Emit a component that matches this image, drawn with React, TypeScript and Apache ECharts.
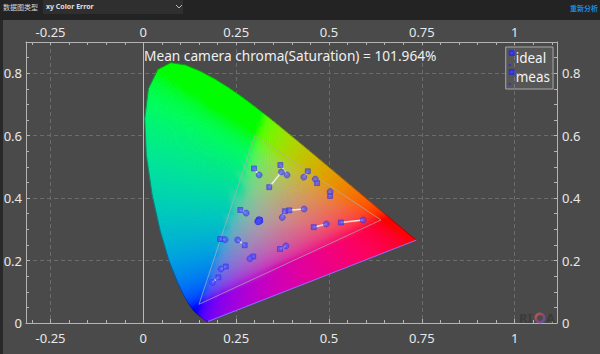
import React, { useEffect, useRef } from 'react';
import * as echarts from 'echarts';

// CIE 1931 2° spectral locus, 380–700 nm in 5 nm steps
const locusX = [0.1741, 0.1740, 0.1738, 0.1736, 0.1733, 0.1730, 0.1726, 0.1721, 0.1714, 0.1703, 0.1689, 0.1669, 0.1644, 0.1611, 0.1566, 0.1510, 0.1440, 0.1355, 0.1241, 0.1096, 0.0913, 0.0687, 0.0454, 0.0235, 0.0082, 0.0039, 0.0139, 0.0389, 0.0743, 0.1142, 0.1547, 0.1929, 0.2296, 0.2658, 0.3016, 0.3373, 0.3731, 0.4087, 0.4441, 0.4788, 0.5125, 0.5448, 0.5752, 0.6029, 0.6270, 0.6482, 0.6658, 0.6801, 0.6915, 0.7006, 0.7079, 0.7140, 0.7190, 0.7230, 0.7260, 0.7283, 0.7300, 0.7311, 0.7320, 0.7327, 0.7334, 0.7340, 0.7344, 0.7346, 0.7347];
const locusY = [0.0050, 0.0050, 0.0049, 0.0049, 0.0048, 0.0048, 0.0048, 0.0048, 0.0051, 0.0058, 0.0069, 0.0086, 0.0109, 0.0138, 0.0177, 0.0227, 0.0297, 0.0399, 0.0578, 0.0868, 0.1327, 0.2007, 0.2950, 0.4127, 0.5384, 0.6548, 0.7502, 0.8120, 0.8338, 0.8262, 0.8059, 0.7816, 0.7543, 0.7243, 0.6923, 0.6589, 0.6245, 0.5896, 0.5547, 0.5202, 0.4866, 0.4544, 0.4242, 0.3965, 0.3725, 0.3514, 0.3340, 0.3197, 0.3083, 0.2993, 0.2920, 0.2859, 0.2809, 0.2770, 0.2740, 0.2717, 0.2700, 0.2689, 0.2680, 0.2673, 0.2666, 0.2660, 0.2656, 0.2654, 0.2653];

// sRGB gamut triangle (R, G, B)
const gamutX = [0.64, 0.30, 0.15];
const gamutY = [0.33, 0.60, 0.06];

// Ideal (reference) chromaticities
const idealX = [0.298, 0.369, 0.339, 0.443, 0.468, 0.503, 0.261, 0.381, 0.393, 0.459, 0.532, 0.207, 0.273, 0.296, 0.368, 0.222, 0.202, 0.3127, 0.3127, 0.3127, 0.3127, 0.3127, 0.3127];
const idealY = [0.495, 0.506, 0.435, 0.486, 0.448, 0.407, 0.362, 0.358, 0.361, 0.307, 0.322, 0.269, 0.249, 0.213, 0.237, 0.181, 0.146, 0.329, 0.329, 0.329, 0.329, 0.329, 0.329];
// Measured chromaticities
const measX = [0.312, 0.387, 0.372, 0.432, 0.463, 0.503, 0.277, 0.374, 0.433, 0.493, 0.592, 0.220, 0.254, 0.287, 0.384, 0.209, 0.186, 0.309, 0.311, 0.314, 0.308, 0.313, 0.310];
const measY = [0.474, 0.474, 0.484, 0.467, 0.461, 0.421, 0.352, 0.338, 0.365, 0.317, 0.330, 0.267, 0.266, 0.206, 0.247, 0.173, 0.130, 0.327, 0.331, 0.326, 0.324, 0.330, 0.325];

const xTickLabels = [-0.25, 0, 0.25, 0.5, 0.75, 1];
const yTickLabels = [0, 0.2, 0.4, 0.6, 0.8];
const xMinorTicks = Array.from({ length: 29 }, (_, i) => Math.round((-0.3 + i * 0.05) * 100) / 100);
const yMinorTicks = Array.from({ length: 19 }, (_, i) => Math.round(i * 0.05 * 100) / 100);

const X_MIN = -0.316;
const X_MAX = 1.114;
const Y_MIN = 0;
const Y_MAX = 0.9;
const TITLE = 'Mean camera chroma(Saturation) = 101.964%';
const FONT = 'Noto Sans';

const WX = 0.3333;
const WY = 0.3333;

function gammaEnc(c: number) {
  const v = c <= 0.0031308 ? 12.92 * c : 1.055 * Math.pow(c, 1 / 2.4) - 0.055;
  return Math.round(Math.max(0, Math.min(1, v)) * 255);
}

function xyColor(x: number, y: number) {
  const yy = Math.max(y, 1e-4);
  const X = x / yy;
  const Z = (1 - x - yy) / yy;
  let r = 3.2406 * X - 1.5372 - 0.4986 * Z;
  let g = -0.9689 * X + 1.8758 + 0.0415 * Z;
  let b = 0.0557 * X - 0.204 + 1.057 * Z;
  r = Math.max(r, 0);
  g = Math.max(g, 0);
  b = Math.max(b, 0);
  const s = r + g + b || 1;
  const K = 1.1;
  r = (r / s) * K;
  g = (g / s) * K;
  b = (b / s) * K;
  const m = Math.max(r, g, b);
  if (m > 1) {
    r /= m;
    g /= m;
    b /= m;
  }
  return `rgb(${gammaEnc(r)},${gammaEnc(g)},${gammaEnc(b)})`;
}

export default function App() {
  const ref = useRef<HTMLDivElement>(null);

  useEffect(() => {
    if (!ref.current) return;
    const chart = echarts.init(ref.current, undefined, { renderer: 'svg' });
    const n = locusX.length;

    const locusData = locusX.map((x, i) => [x, locusY[i]]);
    const gamutData = [...gamutX.map((x, i) => [x, gamutY[i]]), [gamutX[0], gamutY[0]]];
    const purpleLine = [
      [locusX[n - 1], locusY[n - 1]],
      [locusX[0], locusY[0]],
    ];

    const axisLabelStyle = { color: '#e8e8e8', fontSize: 13, fontFamily: FONT };
    const axisLineStyle = { lineStyle: { color: '#b4b4b4', width: 1 } };
    const tickStyle = { lineStyle: { color: '#b4b4b4', width: 1 } };
    const gridLine = { color: '#6c6c6c', type: [4, 3], width: 1 };

    const xBase = { type: 'value', min: X_MIN, max: X_MAX };
    const yBase = { type: 'value', min: Y_MIN, max: Y_MAX };

    const option: any = {
      animation: false,
      backgroundColor: '#4a4a4a',
      textStyle: { fontFamily: FONT },
      title: {
        text: TITLE,
        left: 144,
        top: 48,
        padding: 0,
        textStyle: { color: '#f0f0f0', fontSize: 13.7, fontWeight: 'normal', fontFamily: FONT },
      },
      legend: {
        orient: 'vertical',
        right: 47,
        top: 47,
        itemWidth: 4,
        itemHeight: 14,
        itemGap: 3,
        padding: [3, 3, 4, 3],
        backgroundColor: 'rgba(255,255,255,0.07)',
        borderColor: '#a8a8a8',
        borderWidth: 1,
        borderRadius: 0,
        textStyle: { color: '#f4f4f4', fontSize: 13.5, fontFamily: FONT, padding: [0, 0, 0, -3] },
        data: [
          { name: 'ideal', icon: 'path://M0,0L4,0L4,4L0,4Z M0,13.95L0.01,13.95L0.01,14L0,14Z', itemStyle: { color: '#4646ff' } },
          { name: 'meas', icon: 'path://M0,0L4,0L4,4L0,4Z M0,13.95L0.01,13.95L0.01,14L0,14Z', itemStyle: { color: '#4646ff' } },
        ],
      },
      grid: { left: 26, right: 43, top: 42, bottom: 31, containLabel: false, outerBoundsMode: 'none' },
      xAxis: [
        {
          ...xBase,
          position: 'bottom',
          axisLine: { show: true, onZero: false, ...axisLineStyle },
          axisTick: { show: true, inside: true, length: 4, customValues: xTickLabels, ...tickStyle },
          axisLabel: { ...axisLabelStyle, margin: 8, customValues: xTickLabels },
          splitLine: { show: true, lineStyle: gridLine },
        },
        {
          ...xBase,
          position: 'top',
          axisLine: { show: true, onZero: false, ...axisLineStyle },
          axisTick: { show: true, inside: true, length: 3, customValues: xMinorTicks, ...tickStyle },
          axisLabel: { ...axisLabelStyle, margin: 4, customValues: xTickLabels },
          splitLine: { show: false },
        },
        {
          ...xBase,
          position: 'bottom',
          axisLine: { show: false, onZero: false },
          axisTick: { show: true, inside: true, length: 3, customValues: xMinorTicks, ...tickStyle },
          axisLabel: { show: false },
          splitLine: { show: false },
        },
      ],
      yAxis: [
        {
          ...yBase,
          position: 'left',
          axisLine: { show: true, onZero: false, ...axisLineStyle },
          axisTick: { show: true, inside: true, length: 4, customValues: yTickLabels, ...tickStyle },
          axisLabel: { ...axisLabelStyle, margin: 4, customValues: yTickLabels },
          splitLine: { show: true, lineStyle: gridLine },
        },
        {
          ...yBase,
          position: 'right',
          axisLine: { show: true, onZero: false, ...axisLineStyle },
          axisTick: { show: true, inside: true, length: 3, customValues: yMinorTicks, ...tickStyle },
          axisLabel: { ...axisLabelStyle, margin: 5, customValues: yTickLabels },
          splitLine: { show: false },
        },
        {
          ...yBase,
          position: 'left',
          axisLine: { show: false, onZero: false },
          axisTick: { show: true, inside: true, length: 3, customValues: yMinorTicks, ...tickStyle },
          axisLabel: { show: false },
          splitLine: { show: false },
        },
      ],
      series: [
        {
          type: 'custom',
          name: 'locusFill',
          xAxisIndex: 0,
          yAxisIndex: 0,
          clip: false,
          silent: true,
          z: 1,
          data: locusData,
          encode: { x: 0, y: 1 },
          renderItem: (params: any, api: any) => {
            const i = params.dataIndex;
            const j = (i + 1) % n;
            const x0 = locusX[i];
            const y0 = locusY[i];
            const x1 = locusX[j];
            const y1 = locusY[j];
            const len = Math.hypot(x1 - x0, y1 - y0);
            const parts = Math.max(1, Math.ceil(len / 0.012));
            const c = api.coord([WX, WY]);
            const children: any[] = [];
            for (let k = 0; k < parts; k++) {
              const ax = x0 + ((x1 - x0) * k) / parts;
              const ay = y0 + ((y1 - y0) * k) / parts;
              const bx = x0 + ((x1 - x0) * (k + 1)) / parts;
              const by = y0 + ((y1 - y0) * (k + 1)) / parts;
              const mx = (ax + bx) / 2;
              const my = (ay + by) / 2;
              const pa = api.coord([ax, ay]);
              const pb = api.coord([bx, by]);
              const pm = api.coord([mx, my]);
              const stops: any[] = [];
              for (let s = 0; s <= 12; s++) {
                const t = s / 12;
                stops.push({ offset: t, color: xyColor(WX + (mx - WX) * t, WY + (my - WY) * t) });
              }
              const grad = new echarts.graphic.LinearGradient(c[0], c[1], pm[0], pm[1], stops, true);
              children.push({
                type: 'polygon',
                shape: { points: [c, pa, pb] },
                style: { fill: grad, stroke: grad, lineWidth: 0.8 },
              });
            }
            return { type: 'group', children };
          },
        },
        {
          type: 'line',
          name: 'locus',
          data: locusData,
          showSymbol: false,
          silent: true,
          z: 3,
          lineStyle: { color: 'rgba(10,10,30,0.35)', width: 1 },
          markLine: {
            silent: true,
            symbol: 'none',
            label: { show: false },
            lineStyle: { color: '#b8b8b8', type: 'solid', width: 1 },
            data: [{ xAxis: 0 }],
          },
        },
        {
          type: 'line',
          name: 'purple',
          data: purpleLine,
          showSymbol: false,
          silent: true,
          z: 3,
          lineStyle: { color: '#7878ff', width: 1 },
        },
        {
          type: 'line',
          name: 'gamut',
          data: gamutData,
          showSymbol: false,
          silent: true,
          z: 3,
          lineStyle: { color: 'rgba(175,175,175,0.7)', width: 1 },
        },
        {
          type: 'lines',
          name: 'err',
          coordinateSystem: 'cartesian2d',
          silent: true,
          z: 4,
          data: idealX.map((x, i) => ({ coords: [[x, idealY[i]], [measX[i], measY[i]]] })),
          lineStyle: { color: 'rgba(245,245,245,0.9)', width: 1.5, opacity: 1 },
        },
        {
          type: 'scatter',
          name: 'ideal',
          z: 5,
          symbol: 'rect',
          symbolSize: 5,
          data: idealX.map((x, i) => [x, idealY[i]]),
          itemStyle: { color: 'rgba(75,75,255,0.9)', borderColor: '#2b2bd8', borderWidth: 0.6 },
        },
        {
          type: 'scatter',
          name: 'meas',
          z: 5,
          symbol: 'circle',
          symbolSize: 6,
          data: measX.map((x, i) => [x, measY[i]]),
          itemStyle: { color: 'rgba(75,75,255,0.85)', borderColor: '#2b2bd8', borderWidth: 0.6 },
        },
      ],
      graphic: [
        { type: 'rect', left: 0, top: 0, shape: { width: 600, height: 20 }, style: { fill: '#232323' }, z: 100 },
        { type: 'rect', left: 0, top: 20, shape: { width: 3, height: 334 }, style: { fill: '#282828' }, z: 100 },
        { type: 'rect', left: 43, top: 0, shape: { width: 140, height: 14 }, style: { fill: '#2f2f2f' }, z: 101 },
        { type: 'text', left: 3, top: 3, style: { text: '数据图类型', fill: '#d8d8d8', fontSize: 7, fontFamily: 'Noto Sans CJK SC' }, z: 102 },
        { type: 'text', left: 46, top: 3, style: { text: 'xy Color Error', fill: '#e0e0e0', fontSize: 7, fontWeight: 'bold', fontFamily: FONT }, z: 102 },
        { type: 'polyline', shape: { points: [[176, 5], [179, 8], [182, 5]] }, style: { stroke: '#bbbbbb', lineWidth: 1, fill: 'none' }, z: 102 },
        { type: 'text', right: 2, top: 4, style: { text: '重新分析', fill: '#1c8ad8', fontSize: 7, fontWeight: 'bold', fontFamily: 'Noto Sans CJK SC' }, z: 102 },
        { type: 'text', left: 519, top: 311, style: { text: 'RI', fill: '#3b3b3b', fontSize: 13, fontWeight: 'bold', fontFamily: FONT }, z: 50 },
        {
          type: 'ring',
          shape: { cx: 540, cy: 318, r: 5.5, r0: 3 },
          style: {
            fill: new echarts.graphic.LinearGradient(0, 0, 1, 1, [
              { offset: 0, color: '#e07a2a' },
              { offset: 0.5, color: '#b03a8a' },
              { offset: 1, color: '#3a6ad0' },
            ]),
            opacity: 0.75,
          },
          z: 50,
        },
        { type: 'text', left: 546, top: 311, style: { text: 'A', fill: '#3b3b3b', fontSize: 13, fontWeight: 'bold', fontFamily: FONT }, z: 50 },
      ],
    };

    chart.setOption(option);
    return () => chart.dispose();
  }, []);

  return <div ref={ref} style={{ position: 'fixed', left: 0, top: 0, width: 600, height: 354 }} />;
}
